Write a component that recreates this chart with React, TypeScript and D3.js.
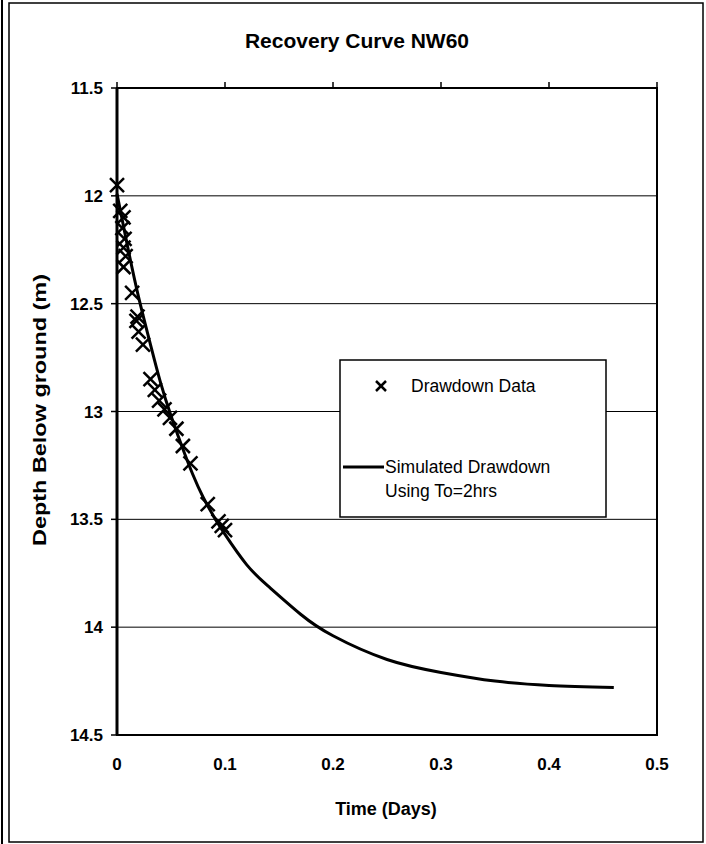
import React from "react";
import * as d3 from "d3";

// Chart text and tick values
const chartTitle = "Recovery Curve NW60";
const xAxisTitle = "Time (Days)";
const yAxisTitle = "Depth Below ground (m)";
const xTicks = [0, 0.1, 0.2, 0.3, 0.4, 0.5];
const yTicks = [11.5, 12, 12.5, 13, 13.5, 14, 14.5];
const xTickLabels = ["0", "0.1", "0.2", "0.3", "0.4", "0.5"];
const yTickLabels = ["11.5", "12", "12.5", "13", "13.5", "14", "14.5"];

// Measured drawdown (time in days, depth in m)
const obsTime = [
  0.0, 0.003, 0.006, 0.005, 0.007, 0.006, 0.008, 0.006, 0.014, 0.019, 0.018,
  0.02, 0.024, 0.031, 0.035, 0.039, 0.044, 0.049, 0.055, 0.061, 0.068, 0.084,
  0.094, 0.097, 0.1,
];
const obsDepth = [
  11.95, 12.07, 12.1, 12.15, 12.2, 12.24, 12.28, 12.33, 12.45, 12.56, 12.58,
  12.63, 12.69, 12.85, 12.9, 12.95, 12.99, 13.03, 13.08, 13.16, 13.24, 13.43,
  13.51, 13.53, 13.55,
];

// Simulated drawdown, To = 2 hrs
const simTime = [
  0, 0.01, 0.02, 0.03, 0.04, 0.05, 0.06, 0.07, 0.08, 0.09, 0.1, 0.12, 0.14,
  0.17, 0.2, 0.25, 0.3, 0.35, 0.4, 0.46,
];
const simDepth = [
  11.99, 12.24, 12.47, 12.67, 12.86, 13.02, 13.16, 13.29, 13.4, 13.49, 13.57,
  13.71, 13.81, 13.94, 14.04, 14.15, 14.21, 14.25, 14.27, 14.28,
];

const legendLabels = ["Drawdown Data", "Simulated Drawdown", "Using To=2hrs"];

const FONT = "'Liberation Sans', Arial, sans-serif";

function Cross({ cx, cy, r, sw }: { cx: number; cy: number; r: number; sw: number }) {
  return (
    <g stroke="#000" strokeWidth={sw} strokeLinecap="butt">
      <line x1={cx - r} y1={cy - r} x2={cx + r} y2={cy + r} />
      <line x1={cx - r} y1={cy + r} x2={cx + r} y2={cy - r} />
    </g>
  );
}

export default function App() {
  const W = 706;
  const H = 844;
  const x = d3.scaleLinear().domain([0, 0.5]).range([117, 657]);
  const y = d3.scaleLinear().domain([11.5, 14.5]).range([88, 735]);

  const sim = simTime.map((t, i) => [t, simDepth[i]] as [number, number]);
  const line = d3
    .line<[number, number]>()
    .x((d) => x(d[0]))
    .y((d) => y(d[1]))
    .curve(d3.curveNatural);

  const [x0, x1] = x.range();
  const [y0, y1] = y.range();

  return (
    <svg
      width={W}
      height={H}
      viewBox={`0 0 ${W} ${H}`}
      style={{ position: "absolute", left: 0, top: 0, background: "#fff" }}
      fontFamily={FONT}
    >
      <rect x={0} y={0} width={W} height={H} fill="#fff" />
      {/* page frame */}
      <line x1={2} y1={0} x2={2} y2={H} stroke="#000" strokeWidth={2} />
      <rect x={9} y={3} width={694} height={839} fill="none" stroke="#000" strokeWidth={1.5} />

      {/* title */}
      <text x={357} y={48} textAnchor="middle" fontSize={21} fontWeight="bold">
        {chartTitle}
      </text>

      {/* gridlines */}
      {yTicks.slice(1, -1).map((v) => (
        <line key={v} x1={x0} x2={x1} y1={y(v)} y2={y(v)} stroke="#000" strokeWidth={1} />
      ))}

      {/* plot frame */}
      <rect x={x0} y={y0} width={x1 - x0} height={y1 - y0} fill="none" stroke="#000" strokeWidth={2} />
      <line x1={x0} x2={x0} y1={y0} y2={y1} stroke="#000" strokeWidth={3} />

      {/* y ticks */}
      {yTicks.map((v, i) => (
        <g key={v}>
          <line x1={x0 - 6} x2={x0} y1={y(v)} y2={y(v)} stroke="#000" strokeWidth={1.5} />
          <text x={103} y={y(v)} dy="0.36em" textAnchor="end" fontSize={17} fontWeight="bold">
            {yTickLabels[i]}
          </text>
        </g>
      ))}

      {/* x ticks along the top axis, labels below the plot */}
      {xTicks.map((v, i) => (
        <g key={v}>
          <line x1={x(v)} x2={x(v)} y1={y0 - 6} y2={y0} stroke="#000" strokeWidth={1.5} />
          <text x={x(v)} y={770} textAnchor="middle" fontSize={17} fontWeight="bold">
            {xTickLabels[i]}
          </text>
        </g>
      ))}

      {/* axis titles */}
      <text x={386} y={815} textAnchor="middle" fontSize={18} fontWeight="bold">
        {xAxisTitle}
      </text>
      <text
        transform={`translate(40,${410}) rotate(-90)`}
        textAnchor="middle"
        dy="0.35em"
        fontSize={18}
        fontWeight="bold"
        textLength={272}
        lengthAdjust="spacingAndGlyphs"
      >
        {yAxisTitle}
      </text>

      {/* simulated curve */}
      <path d={line(sim) ?? ""} fill="none" stroke="#000" strokeWidth={3} />

      {/* measured points */}
      {obsTime.map((t, i) => (
        <Cross key={i} cx={x(t)} cy={y(obsDepth[i])} r={7} sw={2.5} />
      ))}

      {/* legend */}
      <rect x={340} y={360} width={266} height={157} fill="#fff" stroke="#000" strokeWidth={1.5} />
      <Cross cx={381} cy={386} r={5} sw={2.5} />
      <text x={411} y={392} fontSize={17.5}>
        {legendLabels[0]}
      </text>
      <line x1={343} x2={384} y1={467} y2={467} stroke="#000" strokeWidth={3} />
      <text x={385} y={473} fontSize={17.5}>
        {legendLabels[1]}
      </text>
      <text x={385} y={497} fontSize={17.5}>
        {legendLabels[2]}
      </text>
    </svg>
  );
}
